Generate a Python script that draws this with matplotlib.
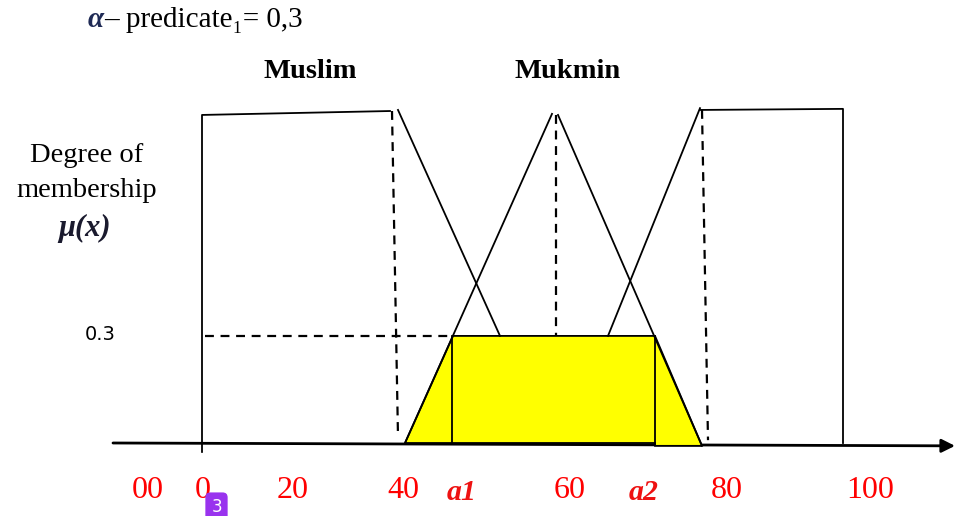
import matplotlib
matplotlib.use("Agg")
import matplotlib.pyplot as plt
from matplotlib.patches import Polygon

# ---- data (x in value units, mu = degree of membership) ----
alpha_cut = 0.3

muslim_x = [0.0, 0.0, 37.6]
muslim_mu = [-0.025, 0.919, 0.930]
muslim_fall_x = [39.2, 59.6]
muslim_fall_mu = [0.933, alpha_cut]

mukmin_left_x = [40.6, 70.0]
mukmin_left_mu = [0.0, 0.922]
mukmin_right_x = [71.2, 100.0]
mukmin_right_mu = [0.919, -0.008]

third_rise_x = [81.2, 99.6]
third_rise_mu = [alpha_cut, 0.938]
third_rect_x = [99.6, 128.2, 128.2]
third_rect_mu = [0.933, 0.936, 0.0]

dash_left_x = [38.0, 39.2]
dash_left_mu = [0.930, 0.017]
dash_mid_x = [70.8, 70.8]
dash_mid_mu = [0.919, alpha_cut]
dash_right_x = [100.0, 101.2]
dash_right_mu = [0.933, 0.008]
dash_cut_x = [0.6, 50.0]

a1 = 50.0
a2 = 90.6
result_x = [40.6, 50.2, 90.6, 100.0, 90.6, 90.6]
result_mu = [0.0, alpha_cut, alpha_cut, -0.008, -0.008, 0.0]

tick_pos = [-10.8, 0.2, 18.2, 40.2, 52.0, 73.6, 88.4, 105.0, 133.6]
tick_labels = ["00", "0", "20", "40", "a1", "60", "a2", "80", "100"]

axis_x = [-17.8, 150.6]
axis_mu = [0.0, -0.008]

# ---- figure ----
W, H = 955, 516
fig = plt.figure(figsize=(W / 100, H / 100), dpi=100)
ax = fig.add_axes([0, 0, 1, 1])
ax.set_xlim(-40.4, 150.6)
ax.set_ylim(-0.2045, 1.241)
ax.axis("off")

lw = 1.3
k = "black"
dash = (0, (4, 3))

# yellow result area
ax.add_patch(Polygon(list(zip(result_x, result_mu)), closed=True,
                     facecolor="#ffff00", edgecolor=k, lw=lw, zorder=2))
ax.plot([a1, a1], [alpha_cut, 0], color=k, lw=lw, zorder=3)
ax.plot([a2, a2], [alpha_cut, -0.006], color=k, lw=lw, zorder=3)

# membership functions
ax.plot(muslim_x, muslim_mu, color=k, lw=lw)
ax.plot(muslim_fall_x, muslim_fall_mu, color=k, lw=lw)
ax.plot(mukmin_left_x, mukmin_left_mu, color=k, lw=lw, zorder=3)
ax.plot(mukmin_right_x, mukmin_right_mu, color=k, lw=lw, zorder=3)
ax.plot(third_rise_x, third_rise_mu, color=k, lw=lw)
ax.plot(third_rect_x, third_rect_mu, color=k, lw=lw)

# dashed guides
ax.plot(dash_left_x, dash_left_mu, color=k, lw=1.6, linestyle=dash)
ax.plot(dash_mid_x, dash_mid_mu, color=k, lw=1.6, linestyle=dash)
ax.plot(dash_right_x, dash_right_mu, color=k, lw=1.6, linestyle=dash)
ax.plot(dash_cut_x, [alpha_cut, alpha_cut], color=k, lw=1.6, linestyle=dash)

# x axis with arrow
ax.annotate("", xy=(axis_x[1], axis_mu[1]), xytext=(axis_x[0], axis_mu[0]),
            arrowprops=dict(arrowstyle="-|>", color=k, lw=2.0, mutation_scale=20,
                            shrinkA=0, shrinkB=0), zorder=1)

serif = ["Liberation Serif", "DejaVu Serif"]

# tick labels (red)
for pos, lab in zip(tick_pos, tick_labels):
    if lab.startswith("a"):
        ax.text(pos, -0.140, lab, color="#ee1111", fontsize=21.5, fontweight="bold",
                fontstyle="italic", family=serif, ha="center", va="center")
    else:
        ax.text(pos, -0.133, lab, color="red", fontsize=23, family=serif,
                ha="center", va="center")

# y label
ax.text(-20.4, alpha_cut + 0.003, "0.3", fontsize=14, family=["DejaVu Sans"],
        ha="center", va="center")
ax.text(-23.0, 0.806, "Degree of", fontsize=20.5, family=serif, ha="center", va="center")
ax.text(-23.0, 0.708, "membership", fontsize=20.5, family=serif, ha="center", va="center")
ax.text(-23.4, 0.600, "μ(x)", fontsize=22, family=serif, fontweight="bold",
        fontstyle="italic", color="#1a1a2e", ha="center", va="center")

# set names
ax.text(21.6, 1.04, "Muslim", fontsize=20.5, family=serif, fontweight="bold",
        ha="center", va="center")
ax.text(73.2, 1.04, "Mukmin", fontsize=20.5, family=serif, fontweight="bold",
        ha="center", va="center")

# title
ax.text(-22.8, 1.185, "α", fontsize=21, family=serif, fontweight="bold",
        fontstyle="italic", color="#1f2a55", ha="left", va="center")
ax.text(-19.6, 1.185, "– predicate₁= 0,3", fontsize=21, family=serif,
        ha="left", va="center")

# badge
ax.text(2.9, -0.180, "3", fontsize=12, color="white", family=["DejaVu Sans"],
        ha="center", va="center",
        bbox=dict(boxstyle="round,pad=0.35,rounding_size=0.3", facecolor="#9933ee",
                  edgecolor="none"))

fig.savefig("out.png", dpi=100)
